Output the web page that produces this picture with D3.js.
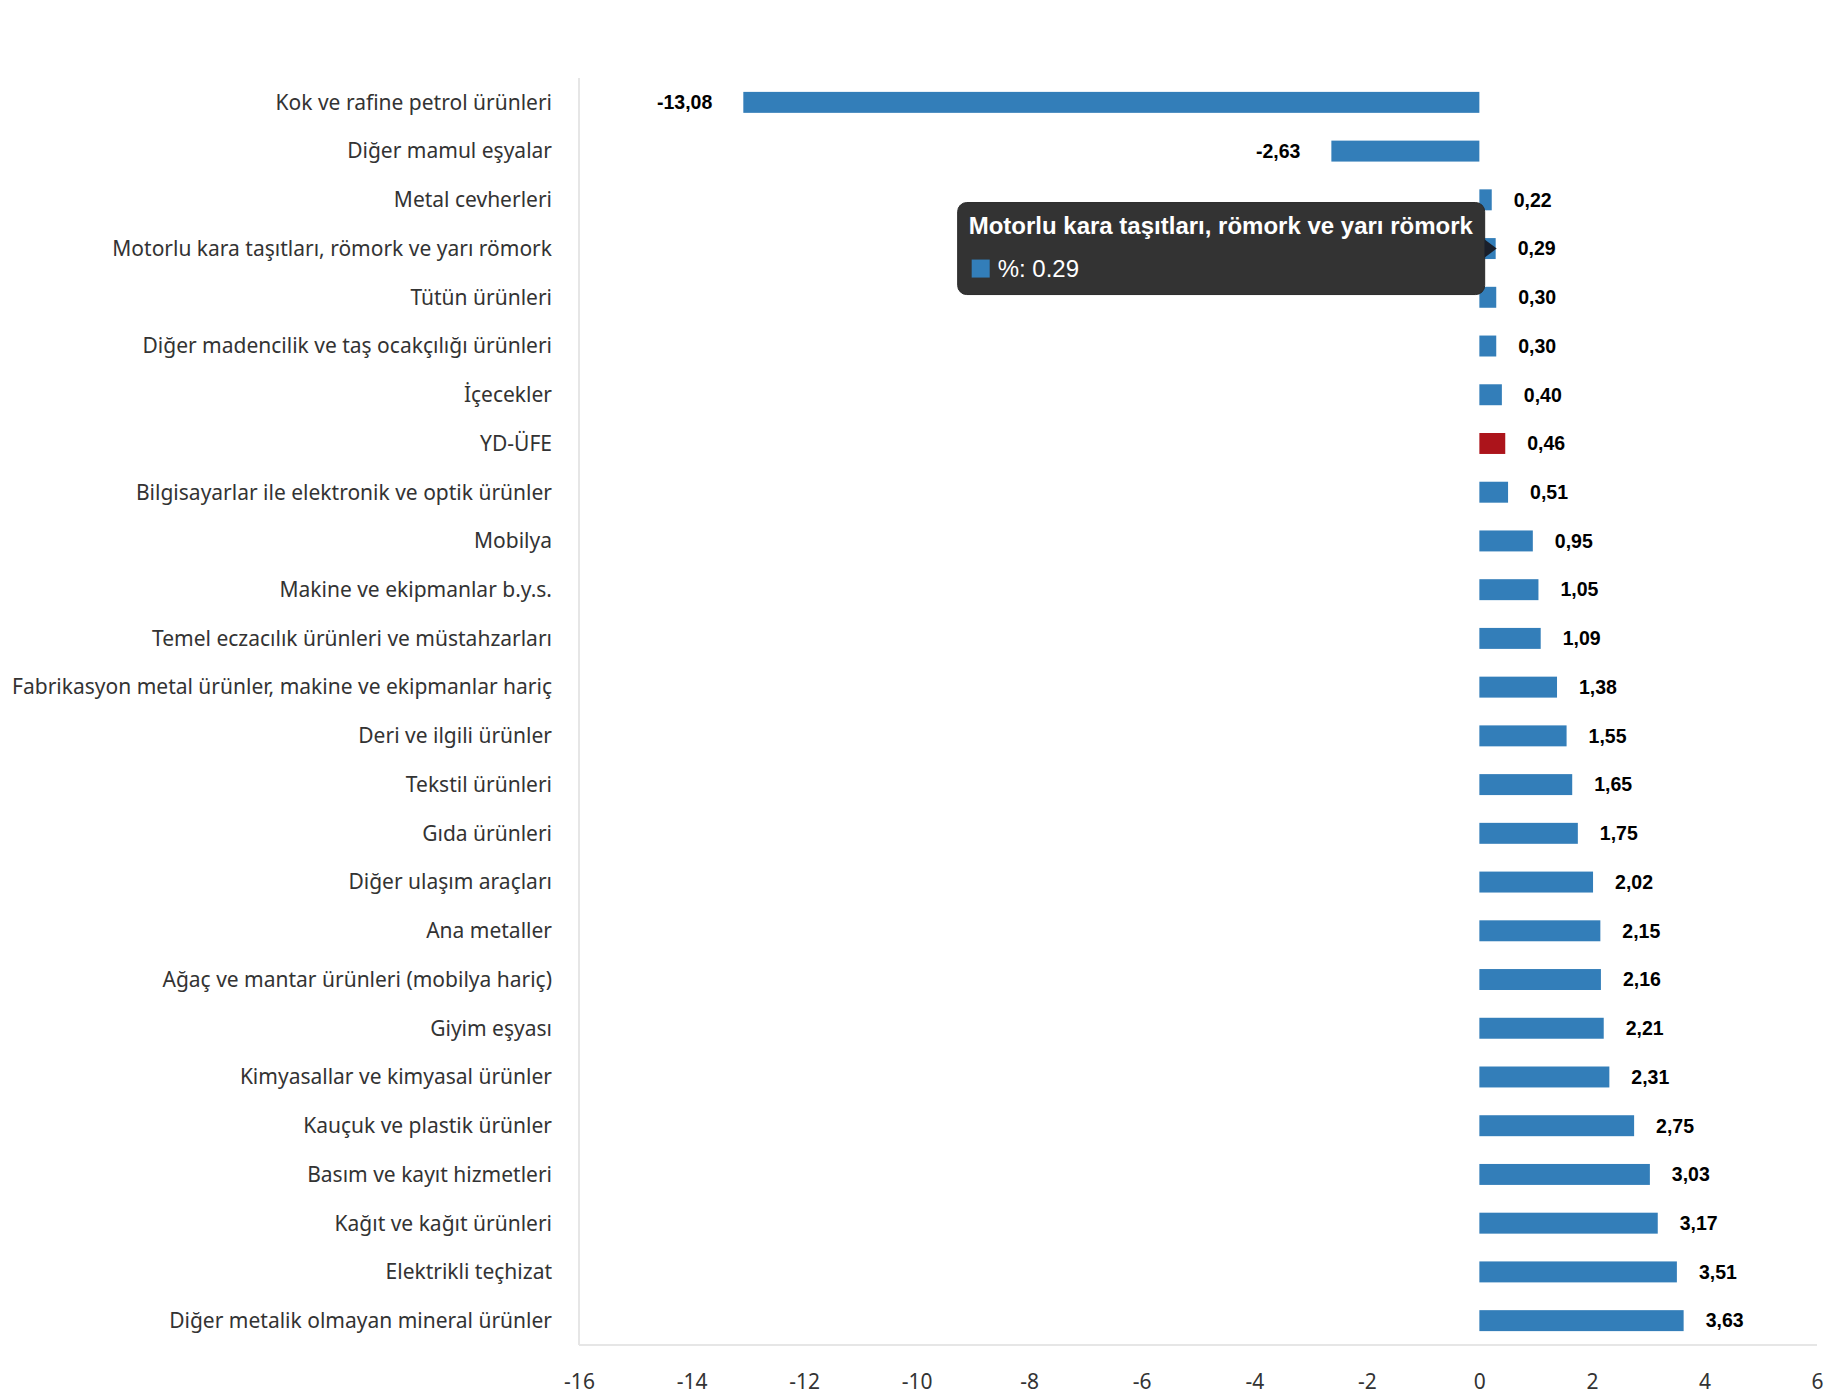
<!DOCTYPE html>
<html>
<head>
<meta charset="utf-8">
<script src="https://cdn.jsdelivr.net/npm/d3@7"></script>
<style>
  body { margin: 0; background: #fff; }
  svg { display: block; }
</style>
</head>
<body>
<script>
  // data
  var categories = [
    "Kok ve rafine petrol ürünleri",
    "Diğer mamul eşyalar",
    "Metal cevherleri",
    "Motorlu kara taşıtları, römork ve yarı römork",
    "Tütün ürünleri",
    "Diğer madencilik ve taş ocakçılığı ürünleri",
    "İçecekler",
    "YD-ÜFE",
    "Bilgisayarlar ile elektronik ve optik ürünler",
    "Mobilya",
    "Makine ve ekipmanlar b.y.s.",
    "Temel eczacılık ürünleri ve müstahzarları",
    "Fabrikasyon metal ürünler, makine ve ekipmanlar hariç",
    "Deri ve ilgili ürünler",
    "Tekstil ürünleri",
    "Gıda ürünleri",
    "Diğer ulaşım araçları",
    "Ana metaller",
    "Ağaç ve mantar ürünleri (mobilya hariç)",
    "Giyim eşyası",
    "Kimyasallar ve kimyasal ürünler",
    "Kauçuk ve plastik ürünler",
    "Basım ve kayıt hizmetleri",
    "Kağıt ve kağıt ürünleri",
    "Elektrikli teçhizat",
    "Diğer metalik olmayan mineral ürünler"
  ];
  var values = [-13.08, -2.63, 0.22, 0.29, 0.30, 0.30, 0.40, 0.46, 0.51, 0.95, 1.05, 1.09,
                1.38, 1.55, 1.65, 1.75, 2.02, 2.15, 2.16, 2.21, 2.31, 2.75, 3.03, 3.17, 3.51, 3.63];
  var xTicks = [-16, -14, -12, -10, -8, -6, -4, -2, 0, 2, 4, 6];
  var highlight = "YD-ÜFE";
  var seriesName = "%";
  var hovered = 3;

  var width = 1830, height = 1400;
  var margin = {top: 78, right: 13, bottom: 55, left: 579};

  var svg = d3.select("body").append("svg")
    .attr("width", width)
    .attr("height", height);

  var x = d3.scaleLinear().domain([-16, 6]).range([margin.left, width - margin.right]);
  var y = d3.scaleBand().domain(categories)
    .range([margin.top, height - margin.bottom])
    .paddingInner(0.57).paddingOuter(0.285);

  // axis lines
  svg.append("line")
    .attr("x1", margin.left).attr("x2", margin.left)
    .attr("y1", margin.top).attr("y2", height - margin.bottom)
    .attr("stroke", "#e6e6e6").attr("stroke-width", 2);
  svg.append("line")
    .attr("x1", margin.left).attr("x2", width - margin.right)
    .attr("y1", height - margin.bottom).attr("y2", height - margin.bottom)
    .attr("stroke", "#e6e6e6").attr("stroke-width", 2);

  // category labels
  svg.append("g").selectAll("text")
    .data(categories).enter().append("text")
    .attr("x", margin.left - 27)
    .attr("y", function(d){ return y(d) + y.bandwidth()/2; })
    .attr("dy", "0.35em")
    .attr("text-anchor", "end")
    .attr("font-family", "'Noto Sans', sans-serif")
    .attr("font-size", "21px")
    .attr("fill", "#333")
    .text(function(d){ return d; });

  // x tick labels
  var xAxis = d3.axisBottom(x).tickValues(xTicks).tickSize(0).tickPadding(0)
    .tickFormat(function(d){ return d < 0 ? "-" + Math.abs(d) : d; });
  var gx = svg.append("g")
    .attr("transform", "translate(0," + (height - margin.bottom) + ")")
    .call(xAxis);
  gx.select(".domain").remove();
  gx.selectAll("text")
    .attr("y", 44)
    .attr("dy", "0")
    .attr("font-family", "'Noto Sans', sans-serif")
    .attr("font-size", "21px")
    .attr("fill", "#333");

  // bars
  svg.append("g").selectAll("rect")
    .data(values).enter().append("rect")
    .attr("x", function(d){ return x(Math.min(0, d)); })
    .attr("y", function(d, i){ return y(categories[i]); })
    .attr("width", function(d){ return Math.abs(x(d) - x(0)); })
    .attr("height", y.bandwidth())
    .attr("fill", function(d, i){ return categories[i] === highlight ? "#ac141b" : "#337eb9"; });

  // value labels
  svg.append("g").selectAll("text")
    .data(values).enter().append("text")
    .attr("x", function(d){ return d < 0 ? x(d) - 31 : x(d) + 22; })
    .attr("y", function(d, i){ return y(categories[i]) + y.bandwidth()/2; })
    .attr("dy", "0.35em")
    .attr("text-anchor", function(d){ return d < 0 ? "end" : "start"; })
    .attr("font-family", "'Liberation Sans', Arial, sans-serif")
    .attr("font-weight", "bold")
    .attr("font-size", "19.5px")
    .attr("fill", "#000")
    .text(function(d){ return d.toFixed(2).replace(".", ","); });

  // tooltip on hovered bar
  var tipX = x(values[hovered]) + 1;
  var tipY = y(categories[hovered]) + y.bandwidth()/2;
  var boxW = 527, boxH = 92;
  var boxR = tipX - 12, boxL = boxR - boxW, boxT = tipY - 46;
  var tip = svg.append("g");
  tip.append("rect")
    .attr("x", boxL).attr("y", boxT)
    .attr("width", boxW).attr("height", boxH)
    .attr("rx", 9).attr("ry", 9)
    .attr("fill", "#333")
    .attr("stroke", "#2a2a2a");
  tip.append("path")
    .attr("d", "M" + boxR + "," + (tipY - 9) + "L" + tipX + "," + tipY + "L" + boxR + "," + (tipY + 9) + "Z")
    .attr("fill", "#1a1f2a");
  tip.append("text")
    .attr("x", boxL + 11).attr("y", boxT + 31)
    .attr("font-family", "'Liberation Sans', Arial, sans-serif")
    .attr("font-weight", "bold")
    .attr("font-size", "24px")
    .attr("fill", "#fff")
    .text(categories[hovered]);
  tip.append("rect")
    .attr("x", boxL + 14).attr("y", boxT + 57)
    .attr("width", 18).attr("height", 18)
    .attr("fill", "#337eb9");
  tip.append("text")
    .attr("x", boxL + 40).attr("y", boxT + 74)
    .attr("font-family", "'Liberation Sans', Arial, sans-serif")
    .attr("font-size", "24px")
    .attr("fill", "#fff")
    .text(seriesName + ": " + values[hovered]);
</script>
</body>
</html>
